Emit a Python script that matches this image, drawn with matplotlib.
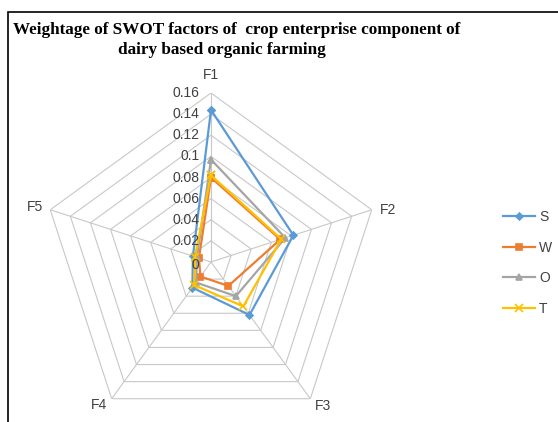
import numpy as np
import matplotlib
matplotlib.use("Agg")
import matplotlib.pyplot as plt
from matplotlib.patches import Rectangle

categories = ["F1", "F2", "F3", "F4", "F5"]
series_names = ["S", "W", "O", "T"]
S = [0.144, 0.082, 0.062, 0.030, 0.018]
W = [0.080, 0.069, 0.028, 0.017, 0.012]
O = [0.097, 0.074, 0.040, 0.024, 0.014]
T = [0.082, 0.070, 0.052, 0.027, 0.016]
tick_values = [0, 0.02, 0.04, 0.06, 0.08, 0.1, 0.12, 0.14, 0.16]
tick_labels = ["0", "0.02", "0.04", "0.06", "0.08", "0.1", "0.12", "0.14", "0.16"]

title1 = "Weightage of SWOT factors of  crop enterprise component of"
title2 = "dairy based organic farming"

colors = ["#5B9BD5", "#ED7D31", "#A5A5A5", "#FFC000"]
markers = ["D", "s", "^", "x"]
msizes = [3.5, 5, 4.5, 6]

W_PX, H_PX = 558, 422
fig = plt.figure(figsize=(W_PX / 100, H_PX / 100), dpi=100)
fig.patch.set_facecolor("white")

# frame
fig.add_artist(Rectangle((8 / W_PX, -0.05), 1.2, 1 - 12 / H_PX + 0.05,
                         transform=fig.transFigure, fill=False,
                         edgecolor="black", linewidth=1.2))

cx, cy, R = 211, 262, 169
ax = fig.add_axes([(cx - R) / W_PX, (H_PX - cy - R) / H_PX, 2 * R / W_PX, 2 * R / H_PX],
                  projection="polar")
ax.set_theta_zero_location("N")
ax.set_theta_direction(-1)
ax.set_ylim(0, 0.16)
ax.grid(False)
ax.spines["polar"].set_visible(False)
ax.set_xticks([])
ax.set_yticks([])
ax.patch.set_alpha(0)

n = len(categories)
angles = np.array([2 * np.pi * i / n for i in range(n)])
ang_closed = np.append(angles, angles[0])

grid_color = "#C8C8C8"
for r in tick_values[1:]:
    ax.plot(ang_closed, [r] * (n + 1), color=grid_color, lw=0.8, zorder=1)
for a in angles:
    ax.plot([a, a], [0, tick_values[-1]], color=grid_color, lw=0.8, zorder=1)

data = [S, W, O, T]
for name, vals, c, m, ms in zip(series_names, data, colors, markers, msizes):
    v = list(vals) + [vals[0]]
    ax.plot(ang_closed, v, color=c, lw=1.6, marker=m, markersize=ms,
            markeredgewidth=1.2, label=name, zorder=3, clip_on=False)

label_font = {"family": "Liberation Sans", "size": 10, "color": "#404040"}
for v, t in zip(tick_values, tick_labels):
    ax.annotate(t, xy=(0, v), xytext=(-8.5, -2 if v == 0 else 0), textcoords="offset points",
                ha="right", va="center", **label_font, annotation_clip=False)

cat_offsets = [(0, 13, "center", "center"), (6, 0, "left", "center"),
               (3, -5, "left", "center"), (-3.5, -4.5, "right", "center"),
               (-5, 2, "right", "center")]
for a, lab, (dx, dy, ha, va) in zip(angles, categories, cat_offsets):
    ax.annotate(lab, xy=(a, tick_values[-1]), xytext=(dx, dy), textcoords="offset points",
                ha=ha, va=va, **label_font, annotation_clip=False)

handles, labels = ax.get_legend_handles_labels()
leg = fig.legend(handles, labels, loc="center left",
                 bbox_to_anchor=(503 / W_PX, 1 - 263 / H_PX),
                 frameon=False, borderaxespad=0, borderpad=0,
                 handlelength=2.3, handletextpad=0.3, labelspacing=1.2,
                 prop={"family": "Liberation Sans", "size": 10})
for t in leg.get_texts():
    t.set_color("#404040")

fig.text(13 / W_PX, 1 - 30 / H_PX, title1, ha="left", va="center",
         family="Liberation Serif", weight="bold", size=12.3)
fig.text(222 / W_PX, 1 - 50 / H_PX, title2, ha="center", va="center",
         family="Liberation Serif", weight="bold", size=12.3)

fig.savefig("out.png", dpi=100)
